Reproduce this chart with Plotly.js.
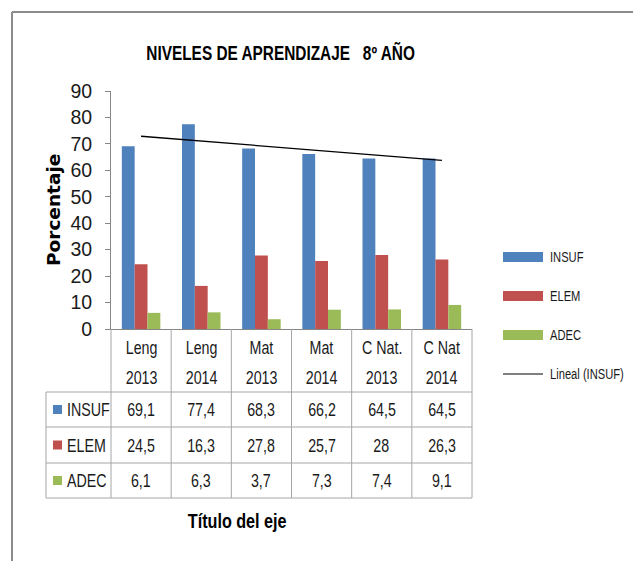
<!DOCTYPE html>
<html>
<head>
<meta charset="utf-8">
<script src="https://cdn.plot.ly/plotly-3.0.1.min.js"></script>
<style>html,body{margin:0;padding:0;background:#fff;}#chart{width:633px;height:561px;}</style>
</head>
<body>
<div id="chart"></div>
<script>
// ---- data ----
const categories = ["Leng 2013", "Leng 2014", "Mat 2013", "Mat 2014", "C Nat. 2013", "C Nat 2014"];
const catTop = ["Leng", "Leng", "Mat", "Mat", "C Nat.", "C Nat"];
const catBottom = ["2013", "2014", "2013", "2014", "2013", "2014"];
const seriesNames = ["INSUF", "ELEM", "ADEC"];
const insuf = [69.1, 77.4, 68.3, 66.2, 64.5, 64.5];
const elem = [24.5, 16.3, 27.8, 25.7, 28, 26.3];
const adec = [6.1, 6.3, 3.7, 7.3, 7.4, 9.1];
const yTicks = [0, 10, 20, 30, 40, 50, 60, 70, 80, 90];
const trendName = "Lineal (INSUF)";
const chartTitle = "NIVELES DE APRENDIZAJE\u00A0\u00A0\u00A08\u00BA AÑO";
const yTitle = "Porcentaje";
const xTitle = "Título del eje";

// ---- styles ----
const colors = ["#4F81BD", "#C0504D", "#9BBB59"];
const FONT = "Liberation Sans, Arial, sans-serif";
const NARROW_SCALE = 0.77; // emulate the condensed face by horizontal compression
const W = 633, H = 561;
const L = 111, R = 472, T = 91, B = 329;
const px2x = p => (p - L) / (R - L);
const py2y = p => (B - p) / (B - T);
const gridColor = "#A6A6A6";
const axisColor = "#868686";
const textColor = "#1a1a1a";

// linear trend (least squares) for INSUF, as Excel's "Lineal" trendline
const n = insuf.length;
const xs = insuf.map((_, i) => i + 1);
const mx = xs.reduce((a, b) => a + b, 0) / n;
const my = insuf.reduce((a, b) => a + b, 0) / n;
let sxy = 0, sxx = 0;
xs.forEach((x, i) => { sxy += (x - mx) * (insuf[i] - my); sxx += (x - mx) * (x - mx); });
const slope = sxy / sxx, icpt = my - slope * mx;
const trend = xs.map(x => icpt + slope * x);

const allSeries = [insuf, elem, adec];
const traces = allSeries.map((vals, i) => ({
  type: "bar", x: categories, y: vals, name: seriesNames[i],
  marker: { color: colors[i] }, hoverinfo: "x+y+name"
}));
traces.push({
  type: "scatter", mode: "lines", x: categories, y: trend, name: trendName,
  line: { color: "#000", width: 1.3 }
});

const shapes = [];
const annotations = [];
const narrowMeta = []; // per annotation: null (no compression) or transform-origin
const line = (x0, y0, x1, y1, color, width) => shapes.push({
  type: "line", xref: "paper", yref: "paper",
  x0: px2x(x0), y0: py2y(y0), x1: px2x(x1), y1: py2y(y1),
  line: { color: color, width: width }
});
const addText = (px, py, text, size, anchor, opts) => {
  opts = opts || {};
  annotations.push(Object.assign({
    xref: "paper", yref: "paper", x: px2x(px), y: py2y(py), text: text,
    showarrow: false, xanchor: anchor, yanchor: "middle",
    font: { family: opts.family || FONT, size: size, color: opts.color || textColor }
  }, opts.extra || {}));
  narrowMeta.push(opts.noNarrow ? null : (anchor === "left" ? "left center" : "center center"));
};

// outer frame
line(12, 12, 640, 12, "#8C8C8C", 2);
line(12, 12, 12, 570, "#8C8C8C", 2);

// data table grid
const colW = (R - L) / categories.length;
const rowY = [392, 427, 463, 498];
rowY.forEach(y => line(46, y, R, y, gridColor, 1));
for (let k = 0; k <= categories.length; k++) {
  line(L + k * colW, B, L + k * colW, 498, gridColor, 1);
}
line(46, 392, 46, 498, gridColor, 1);

// header labels
categories.forEach((c, i) => {
  const cx = L + (i + 0.5) * colW;
  addText(cx, 347, catTop[i], 18.5, "center");
  addText(cx, 377, catBottom[i], 18.5, "center");
});
// rows
allSeries.forEach((vals, r) => {
  const yc = (rowY[r] + rowY[r + 1]) / 2;
  shapes.push({ type: "rect", xref: "paper", yref: "paper",
    x0: px2x(53), x1: px2x(62), y0: py2y(yc - 4.5), y1: py2y(yc + 4.5),
    fillcolor: colors[r], line: { width: 0 } });
  addText(65, yc, seriesNames[r], 18.5, "left");
  vals.forEach((v, i) => addText(L + (i + 0.5) * colW, yc, String(v).replace(".", ","), 18.5, "center"));
});

// legend (right)
const legY = [257, 296, 335];
seriesNames.forEach((s, i) => {
  shapes.push({ type: "rect", xref: "paper", yref: "paper",
    x0: px2x(503), x1: px2x(543), y0: py2y(legY[i] - 5), y1: py2y(legY[i] + 5),
    fillcolor: colors[i], line: { width: 0 } });
  addText(548, legY[i], s, 14.5, "left");
});
line(503, 374, 543, 374, "#000", 1);
addText(548, 374, trendName, 14.5, "left");

// titles
addText(280, 53, "<b>" + chartTitle + "</b>", 20, "center", { color: "#000" });
addText(53, 210, "<b>" + yTitle + "</b>", 18.5, "center",
  { family: "DejaVu Sans", color: "#000", noNarrow: true, extra: { textangle: -90 } });
addText(237, 520, "<b>" + xTitle + "</b>", 21, "center", { color: "#000" });

const layout = {
  width: W, height: H,
  margin: { l: L, r: W - R, t: T, b: H - B, pad: 0 },
  paper_bgcolor: "#fff", plot_bgcolor: "#fff",
  showlegend: false,
  barmode: "group", bargap: 0.36, bargroupgap: 0,
  xaxis: { type: "category", showticklabels: false, ticks: "", showline: true,
    linecolor: axisColor, linewidth: 1, showgrid: false, zeroline: false, fixedrange: true },
  yaxis: { range: [0, 90], tickvals: yTicks, ticks: "outside", ticklen: 5, tickcolor: axisColor,
    showline: true, linecolor: axisColor, linewidth: 1, showgrid: false, zeroline: false,
    ticklabelstandoff: 9,
    tickfont: { family: FONT, size: 19.5, color: textColor }, fixedrange: true },
  shapes: shapes,
  annotations: annotations
};

Plotly.newPlot("chart", traces, layout, { displayModeBar: false, staticPlot: true }).then(gd => {
  gd.querySelectorAll("g.annotation").forEach(g => {
    const idx = +g.getAttribute("data-index");
    const origin = narrowMeta[idx];
    if (!origin) return;
    const t = g.querySelector("text.annotation-text");
    if (!t) return;
    t.style.transformBox = "fill-box";
    t.style.transformOrigin = origin;
    t.style.transform = "scaleX(" + NARROW_SCALE + ")";
  });
});
</script>
</body>
</html>
